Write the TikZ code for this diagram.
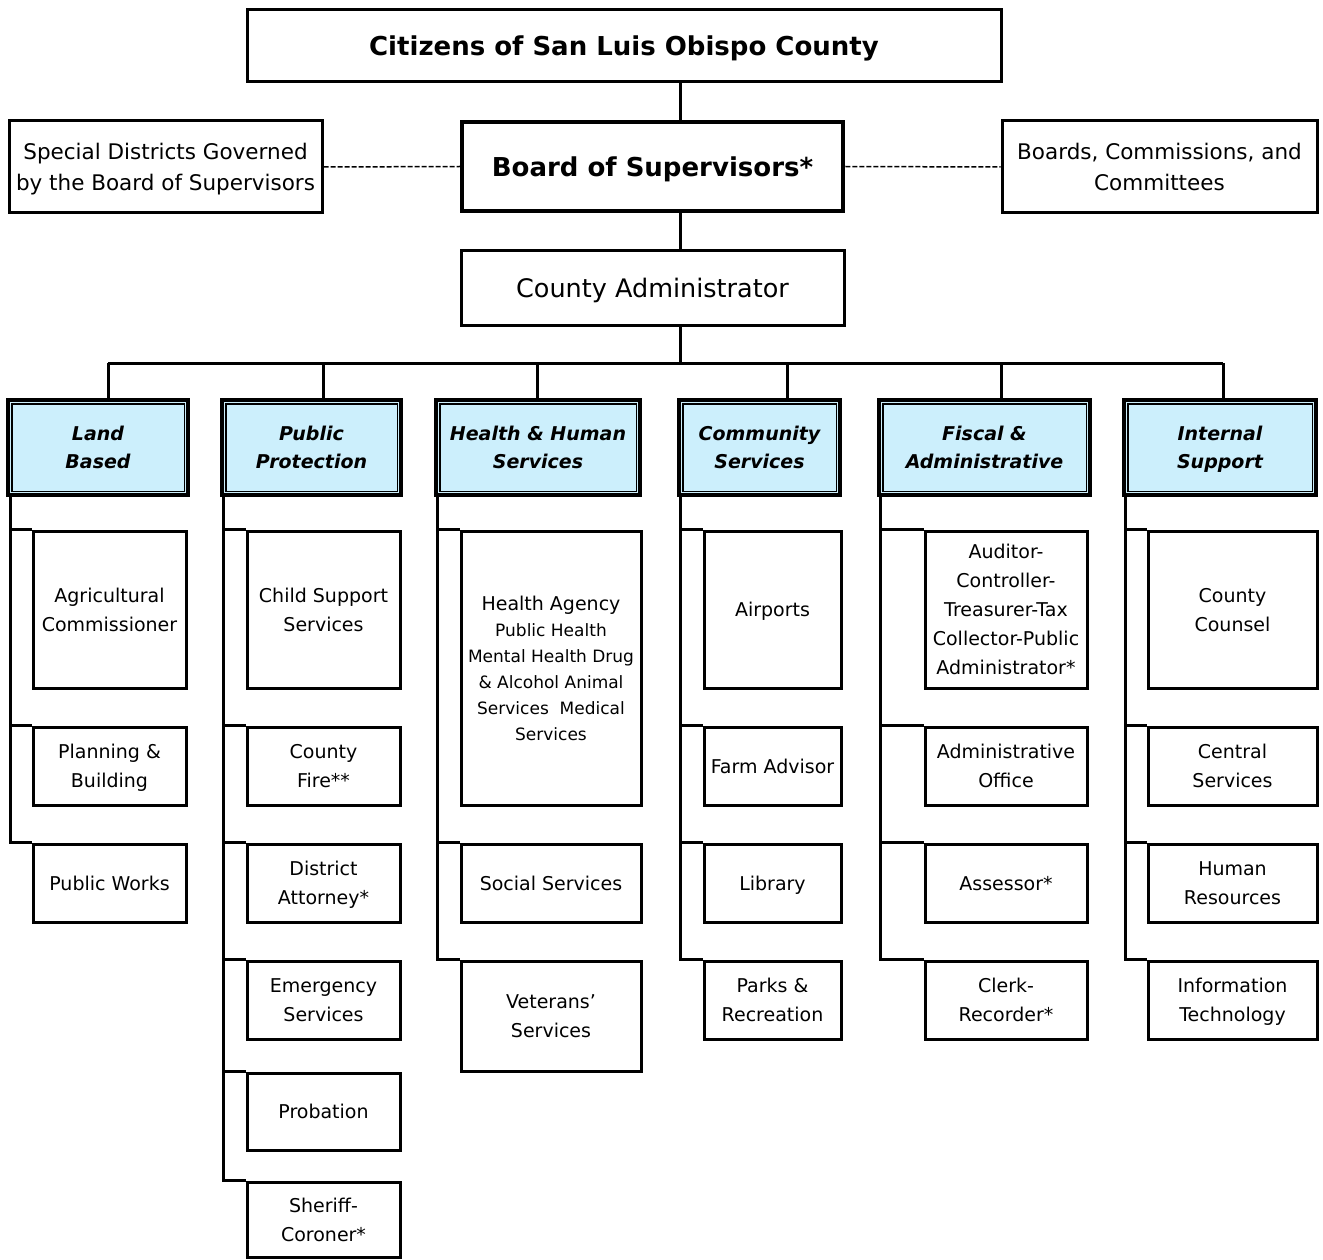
\documentclass[tikz,border=0pt]{standalone}
\usepackage{fontspec}
\setmainfont{DejaVu Sans}
\begin{document}
\begin{tikzpicture}[x=1pt,y=-1pt,
 box/.style={draw,line width=3pt,inner sep=0pt,text depth=0pt,align=center,font=\fontsize{19}{29}\selectfont},
 topbox/.style={box,font=\fontsize{26}{31}\selectfont\bfseries},
 sidebox/.style={box,font=\fontsize{21.5}{31}\selectfont},
 catbox/.style={draw,line width=3.6pt,fill=cyan!20,inner sep=0pt,text depth=0pt,align=center,font=\fontsize{19}{28}\selectfont\bfseries\itshape},
 link/.style={line width=3pt},
 dotlink/.style={line width=1.5pt,dash pattern=on 5pt off 2pt}]
\useasboundingbox (0,0) rectangle (1323,1260);
% top of the chart
\node[topbox,minimum width=754,minimum height=72] (cit) at (624,45.5) {Citizens of San Luis Obispo County};
\node[topbox,line width=4.5pt,minimum width=381,minimum height=89] (bos) at (652.5,166.5) {Board of Supervisors*};
\node[sidebox,minimum width=313,minimum height=92] (sd) at (165.5,167) {Special Districts Governed\\by the Board of Supervisors};
\node[sidebox,minimum width=315,minimum height=92] (bcc) at (1159.5,167) {Boards, Commissions, and\\Committees};
\node[box,font=\fontsize{25.5}{31}\selectfont,minimum width=383,minimum height=74] (ca) at (652.5,288) {County Administrator};
\draw[dotlink] (sd.east) -- (bos.west);
\draw[dotlink] (bos.east) -- (bcc.west);
\coordinate (spine) at (680,0);
\coordinate (bus) at (680,363);
\draw[link] (cit.south -| spine) -- (bos.north -| spine);
\draw[link] (bos.south -| spine) -- (ca.north -| spine);
\draw[link] (ca.south -| spine) -- (bus);
% service groups
\foreach \i/\xa/\xb/\dx/\vx/\lab in {1/8/188/108/10/{Land\\Based},2/222/401/323/223/{Public\\Protection},
  3/436/640/537/437/{Health \& Human\\Services},4/679/840/787/680/{Community\\Services},
  5/879/1090/1001/880/{Fiscal \&\\Administrative},6/1124/1316/1223/1125/{Internal\\Support}}{
  \node[catbox,minimum width={\xb-\xa},minimum height=95] (c\i) at ({(\xa+\xb)/2},447.5) {\lab};
  \draw[line width=1.6pt] ([shift={(5.5pt,-5.5pt)}]c\i.north west) rectangle ([shift={(-5.5pt,5.5pt)}]c\i.south east);
  \coordinate (d\i) at (\dx,0);
  \coordinate (v\i) at (\vx,0);
  \draw[link] (bus -| d\i) -- (c\i.north -| d\i);
}
\draw[link] (bus -| d1) -- (bus -| d6);
% land based
\foreach \j/\ya/\yb/\txt in {1/531/688/{Agricultural\\Commissioner},2/727/805/{Planning \&\\Building},3/844/922/{Public Works}}{
  \node[box,minimum width=153,minimum height={\yb-\ya}] (lb\j) at (109.5,{(\ya+\yb)/2}) {\txt};
  \draw[link] (c1.south -| v1) |- (lb\j.north west);
}
% public protection
\foreach \j/\ya/\yb/\txt in {1/531/688/{Child Support\\Services},2/727/805/{County\\Fire**},3/844/922/{District\\Attorney*},
  4/961/1039/{Emergency\\Services},5/1073/1150/{Probation},6/1182/1257/{Sheriff-\\Coroner*}}{
  \node[box,minimum width=153,minimum height={\yb-\ya}] (pp\j) at (323.5,{(\ya+\yb)/2}) {\txt};
  \draw[link] (c2.south -| v2) |- (pp\j.north west);
}
% health and human services
\node[box,font=\fontsize{17}{26}\selectfont,minimum width=180,minimum height=274] (hh1) at (551,668)
  {{\fontsize{19}{26}\selectfont Health Agency}\\Public Health\\Mental Health Drug\\\& Alcohol Animal\\Services\ \ Medical\\Services};
\draw[link] (c3.south -| v3) |- (hh1.north west);
\foreach \j/\ya/\yb/\txt in {2/844/922/{Social Services},3/961/1071/{Veterans'\\Services}}{
  \node[box,minimum width=180,minimum height={\yb-\ya}] (hh\j) at (551,{(\ya+\yb)/2}) {\txt};
  \draw[link] (c3.south -| v3) |- (hh\j.north west);
}
% community services
\foreach \j/\ya/\yb/\txt in {1/531/688/{Airports},2/727/805/{Farm Advisor},3/844/922/{Library},4/961/1039/{Parks \&\\Recreation}}{
  \node[box,minimum width=137,minimum height={\yb-\ya}] (cs\j) at (772.5,{(\ya+\yb)/2}) {\txt};
  \draw[link] (c4.south -| v4) |- (cs\j.north west);
}
% fiscal and administrative
\foreach \j/\ya/\yb/\txt in {1/531/688/{Auditor-\\Controller-\\Treasurer-Tax\\Collector-Public\\Administrator*},
  2/727/805/{Administrative\\Office},3/844/922/{Assessor*},4/961/1039/{Clerk-\\Recorder*}}{
  \node[box,minimum width=162,minimum height={\yb-\ya}] (fa\j) at (1006,{(\ya+\yb)/2}) {\txt};
  \draw[link] (c5.south -| v5) |- (fa\j.north west);
}
% internal support
\foreach \j/\ya/\yb/\txt in {1/531/688/{County\\Counsel},2/727/805/{Central\\Services},3/844/922/{Human\\Resources},4/961/1039/{Information\\Technology}}{
  \node[box,minimum width=169,minimum height={\yb-\ya}] (is\j) at (1232.5,{(\ya+\yb)/2}) {\txt};
  \draw[link] (c6.south -| v6) |- (is\j.north west);
}
\end{tikzpicture}
\end{document}
